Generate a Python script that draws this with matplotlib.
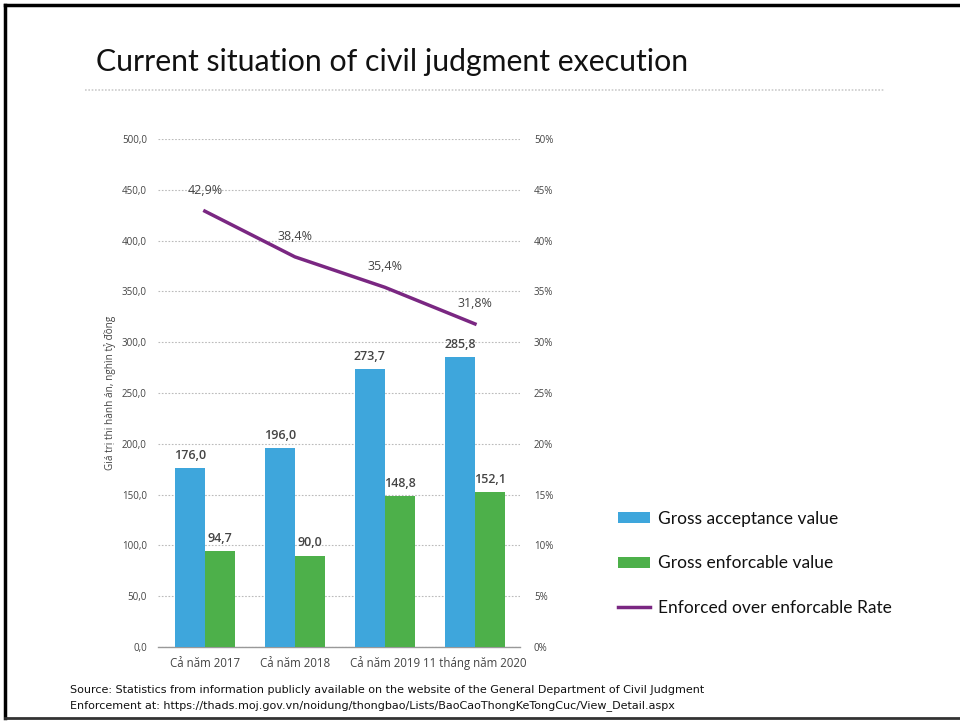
import matplotlib
matplotlib.use("Agg")
import matplotlib.pyplot as plt
from matplotlib.lines import Line2D
from matplotlib.patches import Patch
import numpy as np

categories = ["Cả năm 2017", "Cả năm 2018", "Cả năm 2019", "11 tháng năm 2020"]
acceptance = [176.0, 196.0, 273.7, 285.8]
enforcable = [94.7, 90.0, 148.8, 152.1]
rate = [42.9, 38.4, 35.4, 31.8]
left_ticks = [0, 50, 100, 150, 200, 250, 300, 350, 400, 450, 500]
right_ticks = [0, 5, 10, 15, 20, 25, 30, 35, 40, 45, 50]

BLUE = "#3EA6DC"
GREEN = "#4DB04A"
PURPLE = "#7A2782"
TXT = "#444444"

def vn(v, d=1):
    return f"{v:.{d}f}".replace(".", ",")

W, H = 960, 721
fig = plt.figure(figsize=(W / 100, H / 100), dpi=100)
fig.patch.set_facecolor("white")

ax = fig.add_axes([158 / W, 1 - 647 / H, (520 - 158) / W, (647 - 139) / H])
x = np.arange(len(categories))
bw = 0.333
ax.bar(x - bw / 2, acceptance, bw, color=BLUE, zorder=3)
ax.bar(x + bw / 2, enforcable, bw, color=GREEN, zorder=3)
ax.set_xlim(-0.52, 3.5)
ax.set_ylim(0, 500)
ax.set_yticks(left_ticks)
ax.set_yticklabels([vn(t) for t in left_ticks], fontsize=7, color=TXT, family="Open Sans")
ax.set_xticks(x)
ax.set_xticklabels(categories, fontsize=8.3, color=TXT, family="Open Sans")
ax.tick_params(axis="y", length=0, pad=8)
ax.tick_params(axis="x", length=0, pad=7)
for s in ["top", "right", "left"]:
    ax.spines[s].set_visible(False)
ax.spines["bottom"].set_color("#999999")
ax.spines["bottom"].set_linewidth(1.0)
ax.grid(axis="y", linestyle=(0, (1.5, 1.5)), color="#BBBBBB", linewidth=0.8, zorder=0)
ax.set_ylabel("Giá trị thi hành án, nghìn tỷ đồng", fontsize=7.2, color=TXT,
              family="Open Sans", labelpad=4)

for i, v in enumerate(acceptance):
    ax.text(x[i] - bw / 2, v + 6, vn(v), ha="center", va="bottom", fontsize=9,
            color=TXT, family="Open Sans", fontweight="semibold")
for i, v in enumerate(enforcable):
    ax.text(x[i] + bw / 2, v + 6, vn(v), ha="center", va="bottom", fontsize=9,
            color=TXT, family="Open Sans", fontweight="semibold")

ax2 = ax.twinx()
ax2.set_ylim(0, 50)
ax2.plot(x, rate, color=PURPLE, linewidth=2.5, zorder=4)
ax2.set_yticks(right_ticks)
ax2.set_yticklabels([f"{t}%" for t in right_ticks], fontsize=7, color=TXT, family="Open Sans")
ax2.tick_params(axis="y", length=0, pad=10)
for s in ["top", "right", "left", "bottom"]:
    ax2.spines[s].set_visible(False)
for i, v in enumerate(rate):
    ax2.text(x[i], v + 1.4, vn(v) + "%", ha="center", va="bottom", fontsize=9,
             color=TXT, family="Open Sans")

# Title
fig.text(96 / W, 1 - 62 / H, "Current situation of civil judgment execution",
         fontsize=21.8, family="Lato", color="#111111", va="center", ha="left")
fig.add_artist(Line2D([85 / W, 885 / W], [1 - 90 / H, 1 - 90 / H],
                      color="#CCCCCC", linestyle=(0, (1, 1)), linewidth=1.2))

# Legend
handles = [Patch(facecolor=BLUE), Patch(facecolor=GREEN),
           Line2D([0], [0], color=PURPLE, linewidth=2.5)]
labels = ["Gross acceptance value", "Gross enforcable value", "Enforced over enforcable Rate"]
leg = fig.legend(handles, labels, loc="upper left", bbox_to_anchor=(602 / W, 1 - 495 / H),
                 frameon=False, handlelength=1.85, handleheight=0.6,
                 labelspacing=1.65, handletextpad=0.5,
                 prop={"family": "Lato", "size": 12.5})
for t in leg.get_texts():
    t.set_color("#111111")

# Source
src_font = ["Liberation Sans Narrow", "DejaVu Sans"]
fig.text(70 / W, 1 - 690 / H,
         "Source: Statistics from information publicly available on the website of the General Department of Civil Judgment",
         fontsize=8.0, family=src_font, color="#111111", va="center")
fig.text(70 / W, 1 - 706 / H,
         "Enforcement at: https://thads.moj.gov.vn/noidung/thongbao/Lists/BaoCaoThongKeTongCuc/View_Detail.aspx",
         fontsize=8.0, family=src_font, color="#111111", va="center")

# Frame
fig.add_artist(Line2D([5 / W, 5 / W], [1 - 718 / H, 1 - 5 / H], color="black", linewidth=2.5))
fig.add_artist(Line2D([5 / W, 1.0], [1 - 5 / H, 1 - 5 / H], color="black", linewidth=2.5))
fig.add_artist(Line2D([5 / W, 1.0], [1 - 718 / H, 1 - 718 / H], color="#333333", linewidth=2.0))

fig.savefig("out.png", dpi=100)
